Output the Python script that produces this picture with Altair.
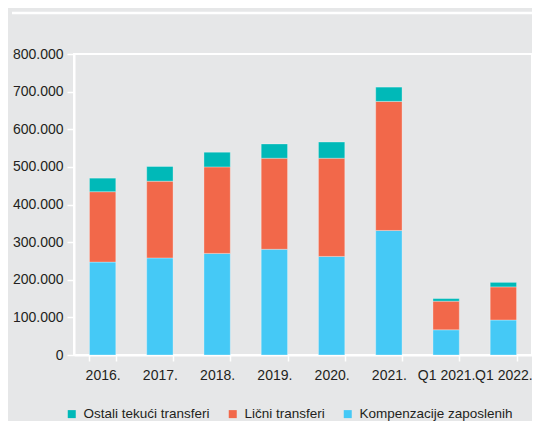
import altair as alt
import pandas as pd

categories = ["2016.", "2017.", "2018.", "2019.", "2020.", "2021.", "Q1 2021.", "Q1 2022."]
series = ["Ostali tekući transferi", "Lični transferi", "Kompenzacije zaposlenih"]
komp = [247000, 258000, 270000, 281000, 262000, 331000, 67000, 93000]
licni = [187000, 204000, 230000, 242000, 261000, 343000, 76000, 88000]
ostali = [36000, 39000, 39000, 38000, 43000, 38000, 7000, 12000]
colors = ["#00b9b8", "#f2684a", "#45c9f6"]
y_ticks = [0, 100000, 200000, 300000, 400000, 500000, 600000, 700000, 800000]

rows = []
for i, c in enumerate(categories):
    rows.append({"cat": c, "serija": series[2], "v": komp[i], "ord": 0})
    rows.append({"cat": c, "serija": series[1], "v": licni[i], "ord": 1})
    rows.append({"cat": c, "serija": series[0], "v": ostali[i], "ord": 2})
df = pd.DataFrame(rows)

FONT = "Liberation Sans"
FS = 14
TXT = "#231f20"

bars = alt.Chart(df).mark_bar(stroke="#ffffff", strokeOpacity=0.3, strokeWidth=1).encode(
    x=alt.X("cat:N", sort=categories, title=None,
            scale=alt.Scale(paddingInner=0.54, paddingOuter=0.27),
            axis=alt.Axis(labelAngle=0, tickBand="extent", domainColor="white", domainWidth=2,
                          tickColor="white", tickWidth=1.5, tickSize=6, labelPadding=7,
                          labelFont=FONT, labelFontSize=FS, labelColor=TXT)),
    y=alt.Y("v:Q", stack="zero", title=None,
            scale=alt.Scale(domain=[0, 800000], nice=False),
            axis=alt.Axis(values=y_ticks, grid=False, domainColor="white", domainWidth=2,
                          tickColor="white", tickWidth=1.5, tickSize=7, labelPadding=4,
                          labelFont=FONT, labelFontSize=FS, labelColor=TXT,
                          labelExpr="replace(format(datum.value, ','), regexp(',', 'g'), '.')")),
    color=alt.Color("serija:N", scale=alt.Scale(domain=series, range=colors),
                    legend=alt.Legend(title=None, orient="none", legendX=-9, legendY=353,
                                      direction="horizontal", columns=3, columnPadding=16,
                                      symbolType="square", symbolSize=64, symbolStrokeWidth=0,
                                      symbolOpacity=1, labelOffset=5, labelLimit=300,
                                      labelFont=FONT, labelFontSize=13.5, labelColor=TXT)),
    order=alt.Order("ord:Q", sort="ascending"),
)

topline = alt.Chart(pd.DataFrame({"a": [0]})).mark_rule(color="white", strokeWidth=2.5).encode(
    x=alt.value(-62), x2=alt.value(470), y=alt.value(-41)
)

chart = alt.layer(bars, topline).properties(
    width=458, height=301,
    autosize=alt.AutoSizeParams(type="none"),
    padding={"left": 66, "top": 46, "right": 0, "bottom": 66},
    background="#e6e7e8",
).configure_view(stroke="white", strokeWidth=2)

chart.save("out.html", embed_options={"renderer": "svg", "actions": False})
